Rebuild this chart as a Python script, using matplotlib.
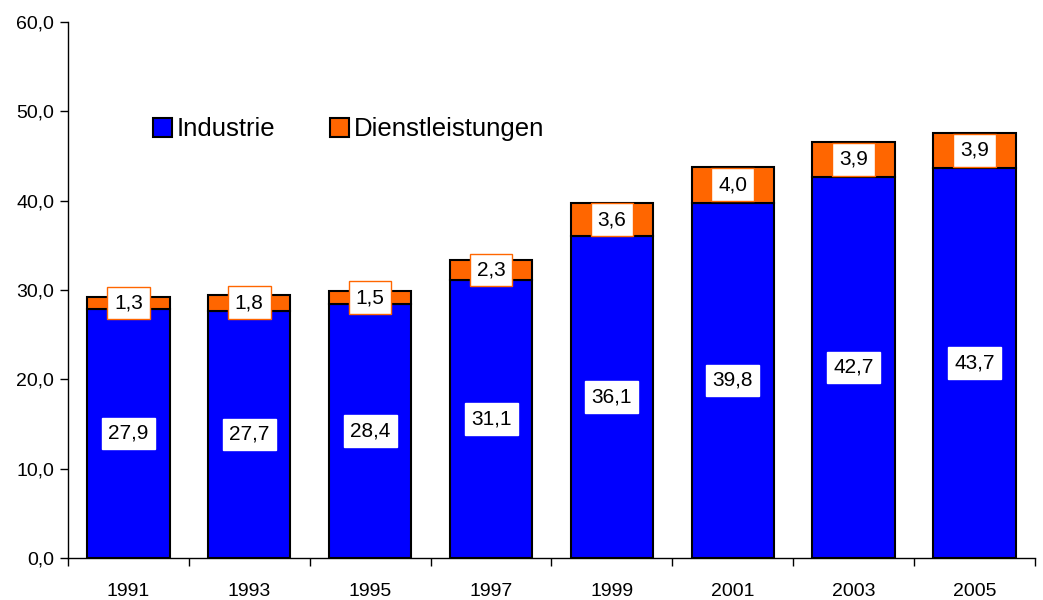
import numpy as np
import matplotlib.pyplot as plt
from matplotlib.ticker import FuncFormatter, FixedLocator

plt.rcParams['font.family'] = ['Liberation Sans', 'DejaVu Sans']

jahre = ['1991', '1993', '1995', '1997', '1999', '2001', '2003', '2005']
industrie = [27.9, 27.7, 28.4, 31.1, 36.1, 39.8, 42.7, 43.7]
dienstleistungen = [1.3, 1.8, 1.5, 2.3, 3.6, 4.0, 3.9, 3.9]

blau = '#0000FF'
orange = '#FF6600'

fig = plt.figure(figsize=(10.43, 6.0), dpi=100)
ax = fig.add_axes([0.0652, 0.07, 0.927, 0.893])

x = np.arange(len(jahre))
b1 = ax.bar(x, industrie, width=0.68, color=blau, edgecolor='black', linewidth=1.5,
            label='Industrie', zorder=2)
b2 = ax.bar(x, dienstleistungen, width=0.68, bottom=industrie, color=orange,
            edgecolor='black', linewidth=1.5, label='Dienstleistungen', zorder=2)

def fmt(v):
    return f'{v:.1f}'.replace('.', ',')

for i in range(len(jahre)):
    ax.text(x[i], industrie[i] / 2, fmt(industrie[i]), ha='center', va='center',
            fontsize=15, zorder=3,
            bbox=dict(boxstyle='square,pad=0.3', facecolor='white', edgecolor='white'))
    ax.text(x[i], industrie[i] + dienstleistungen[i] / 2, fmt(dienstleistungen[i]),
            ha='center', va='center', fontsize=15, zorder=3,
            bbox=dict(boxstyle='square,pad=0.33', facecolor='white', edgecolor=orange,
                      linewidth=1))

ax.set_xlim(-0.5, len(jahre) - 0.5)
ax.set_ylim(0, 60)
ax.set_yticks(np.arange(0, 61, 10))
ax.yaxis.set_major_formatter(FuncFormatter(lambda v, p: fmt(v)))
ax.set_xticks(x)
ax.set_xticklabels(jahre)
ax.tick_params(axis='x', which='major', length=0, pad=18, labelsize=14)
ax.xaxis.set_minor_locator(FixedLocator(np.arange(-0.5, len(jahre), 1.0)))
ax.tick_params(axis='x', which='minor', length=6, width=1)
ax.tick_params(axis='y', length=6, width=1, labelsize=14, pad=4)

ax.spines['top'].set_visible(False)
ax.spines['right'].set_visible(False)
ax.spines['left'].set_linewidth(1)
ax.spines['bottom'].set_linewidth(1)

leg = ax.legend(loc='upper left', bbox_to_anchor=(0.0635, 0.866), ncol=2, frameon=False,
                fontsize=18.5, handlelength=0.75, handleheight=0.75, handletextpad=0.2,
                columnspacing=2.1)
for h in leg.legend_handles:
    h.set_edgecolor('black')
    h.set_linewidth(1.5)

fig.savefig('out.png', dpi=100)
